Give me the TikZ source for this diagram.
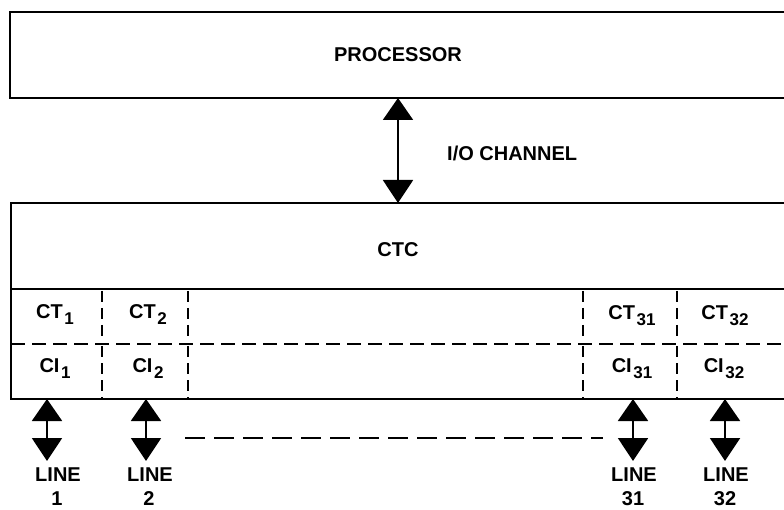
\documentclass[tikz,border=0pt]{standalone}
\usepackage{fontspec}
\setmainfont{Liberation Sans}
\usetikzlibrary{arrows.meta}
\newcommand{\subn}[1]{\kern1.5pt\raisebox{-6pt}{\fontsize{17}{17}\selectfont #1}}
\begin{document}
\begin{tikzpicture}[x=1pt,y=-1pt,
  lbl/.style={font=\fontsize{20}{22}\selectfont\bfseries, inner sep=0pt},
  boxline/.style={line width=2.2pt},
  dsh/.style={line width=2.5pt, dash pattern=on 14pt off 7pt},
  biarrow/.style={line width=2pt, {Triangle[width=30pt,length=22pt]}-{Triangle[width=30pt,length=23pt]}}
]
\useasboundingbox (0,0) rectangle (784,510);
\clip (0,0) rectangle (784,510);
% processor box (open to the right edge)
\draw[boxline] (800,12) -- (10,12) -- (10,98) -- (800,98);
\node[lbl] (proc) at (398,55) {PROCESSOR};
% CTC box
\draw[boxline] (800,203) -- (11,203) -- (11,399) -- (800,399);
\draw[boxline] (11,289) -- (800,289);
\node[lbl] (ctc) at (398,250) {CTC};
% dashed grid
\draw[dsh] (11,344) -- (800,344);
\foreach \x in {102,188,583,677} {
  \draw[dsh, dash pattern=on 11pt off 6pt] (\x,291) -- (\x,342);
  \draw[dsh, dash pattern=on 11pt off 6pt] (\x,346) -- (\x,399);
}
% cell labels
\node[lbl] (ct1)  at (55,315)  {CT\subn{1}};
\node[lbl] (ct2)  at (148,315) {CT\subn{2}};
\node[lbl] (ct31) at (632,316) {CT\subn{31}};
\node[lbl] (ct32) at (725,316) {CT\subn{32}};
\node[lbl] (ci1)  at (55,369)  {CI\subn{1}};
\node[lbl] (ci2)  at (148,369) {CI\subn{2}};
\node[lbl] (ci31) at (632,369) {CI\subn{31}};
\node[lbl] (ci32) at (724,369) {CI\subn{32}};
% I/O channel
\coordinate (iotop) at (398,98);
\coordinate (iobot) at (398,203);
\draw[biarrow] (iotop) -- (iobot);
\node[lbl, anchor=west] (io) at (447,153) {I/O CHANNEL};
% line arrows
\foreach \x/\n/\lx in {47/1/58, 146/2/150, 633/31/634, 725/32/726} {
  \coordinate (t\n) at (\x,399);
  \coordinate (b\n) at (\x,461);
  \draw[biarrow] (t\n) -- (b\n);
  \node[lbl] (line\n) at (\lx,475) {LINE};
  \node[lbl] (num\n) at (\lx-1,499) {\n};
}
% dashed continuation
\coordinate (dl) at (185,438);
\coordinate (dr) at (603,438);
\draw[dsh, dash pattern=on 20pt off 9pt] (dl) -- (dr);
\end{tikzpicture}
\end{document}
